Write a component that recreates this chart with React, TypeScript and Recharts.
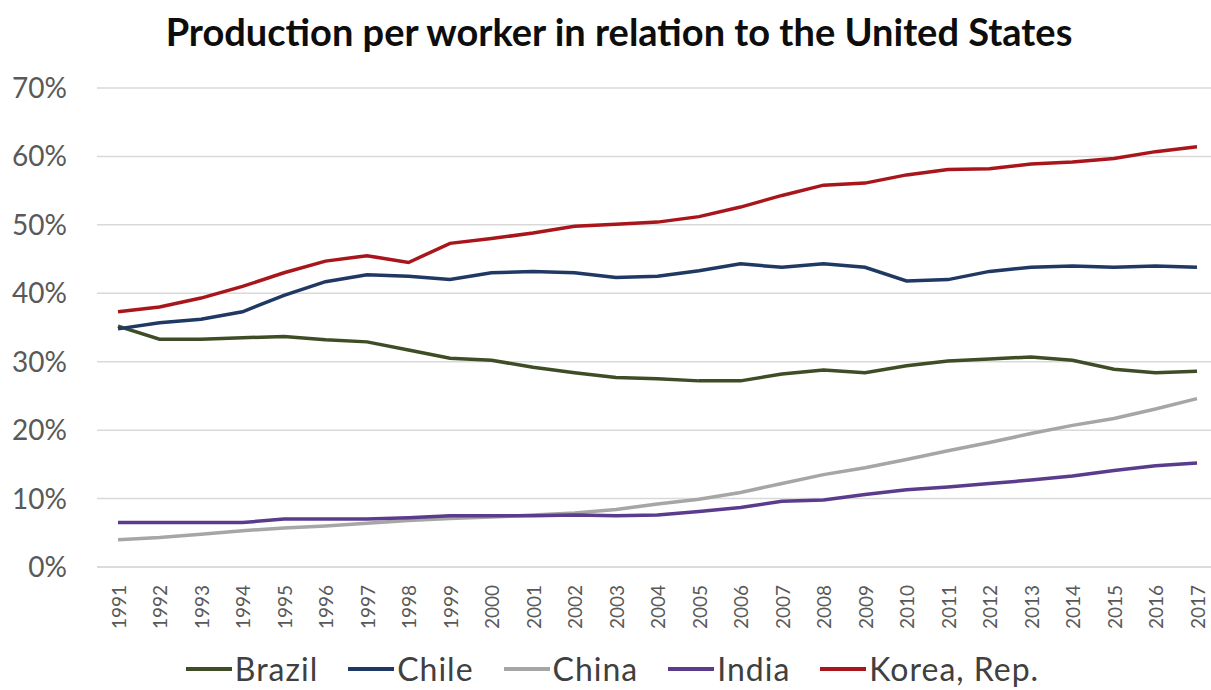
import React from "react";
import { LineChart, Line, XAxis, YAxis, CartesianGrid, Legend } from "recharts";

const years = [
  "1991","1992","1993","1994","1995","1996","1997","1998","1999","2000",
  "2001","2002","2003","2004","2005","2006","2007","2008","2009","2010",
  "2011","2012","2013","2014","2015","2016","2017",
];

const brazil = [35.2,33.3,33.3,33.5,33.7,33.2,32.9,31.7,30.5,30.2,29.2,28.4,27.7,27.5,27.2,27.2,28.2,28.8,28.4,29.4,30.1,30.4,30.7,30.2,28.9,28.4,28.6];
const chile = [34.8,35.7,36.2,37.3,39.7,41.7,42.7,42.5,42.0,43.0,43.2,43.0,42.3,42.5,43.3,44.3,43.8,44.3,43.8,41.8,42.0,43.2,43.8,44.0,43.8,44.0,43.8];
const china = [4.0,4.3,4.8,5.3,5.7,6.0,6.4,6.8,7.1,7.3,7.6,7.9,8.4,9.2,9.9,10.9,12.2,13.5,14.5,15.7,17.0,18.2,19.5,20.7,21.7,23.1,24.6];
const india = [6.5,6.5,6.5,6.5,7.0,7.0,7.0,7.2,7.5,7.5,7.5,7.6,7.5,7.6,8.1,8.7,9.6,9.8,10.6,11.3,11.7,12.2,12.7,13.3,14.1,14.8,15.2];
const korea = [37.3,38.0,39.3,41.0,43.0,44.7,45.5,44.5,47.3,48.0,48.8,49.8,50.1,50.4,51.2,52.6,54.3,55.8,56.1,57.3,58.1,58.2,58.9,59.2,59.7,60.7,61.4];

const yTicks = [0, 10, 20, 30, 40, 50, 60, 70];

const seriesNames = ["Brazil", "Chile", "China", "India", "Korea, Rep."];
const seriesColors = ["#3e4d25", "#1f3864", "#a6a6a6", "#5b3b8c", "#a8161c"];
const seriesValues = [brazil, chile, china, india, korea];

const data = years.map((y, i) => {
  const row: any = { year: y };
  seriesNames.forEach((n, k) => {
    row[n] = seriesValues[k][i];
  });
  return row;
});

const FONT = "Lato, 'Open Sans', sans-serif";

const XTick = (props: any) => {
  const { x, y, payload } = props;
  return (
    <text
      transform={`translate(${x},${y + 10}) rotate(-90)`}
      textAnchor="end"
      dominantBaseline="central"
      fill="#595959"
      fontSize={19}
      fontFamily={FONT}
    >
      {payload.value}
    </text>
  );
};

const LegendContent = () => (
  <div
    style={{
      display: "flex",
      justifyContent: "center",
      alignItems: "center",
      height: 43,
      fontFamily: FONT,
      fontSize: 32,
      letterSpacing: 1,
      color: "#404040",
      paddingLeft: 14,
    }}
  >
    {seriesNames.map((n, k) => (
      <div key={n} style={{ display: "flex", alignItems: "center", margin: "0 15px" }}>
        <svg width={46} height={10} style={{ marginRight: 3 }}>
          <line x1={0} y1={5} x2={46} y2={5} stroke={seriesColors[k]} strokeWidth={4} />
        </svg>
        <span>{n}</span>
      </div>
    ))}
  </div>
);

export default function App() {
  return (
    <div
      style={{
        position: "absolute",
        left: 0,
        top: 0,
        width: 1211,
        height: 690,
        background: "#ffffff",
        overflow: "hidden",
      }}
    >
      <div
        style={{
          position: "absolute",
          left: 0,
          top: 8,
          width: 1238,
          textAlign: "center",
          fontFamily: FONT,
          fontWeight: 700,
          fontSize: 38,
          color: "#0d0d0d",
        }}
      >
        Production per worker in relation to the United States
      </div>
      <LineChart
        width={1211}
        height={690}
        data={data}
        margin={{ top: 88, right: 0, left: 0, bottom: 0 }}
      >
        <CartesianGrid vertical={false} stroke="#d9d9d9" strokeWidth={1.5} />
        <XAxis
          dataKey="year"
          interval={0}
          height={80}
          padding={{ left: 21, right: 14 }}
          tickLine={false}
          axisLine={{ stroke: "#d9d9d9", strokeWidth: 1.5 }}
          tick={<XTick />}
        />
        <YAxis
          width={97}
          domain={[0, 70]}
          ticks={yTicks}
          interval={0}
          tickLine={false}
          axisLine={false}
          tickSize={0}
          tickMargin={30}
          tickFormatter={(v: number) => `${v}%`}
          tick={{ fill: "#595959", fontSize: 28, fontFamily: FONT }}
        />
        {seriesNames.map((n, k) => (
          <Line
            key={n}
            type="linear"
            dataKey={n}
            stroke={seriesColors[k]}
            strokeWidth={3.5}
            dot={false}
            isAnimationActive={false}
          />
        ))}
        <Legend verticalAlign="bottom" height={43} content={<LegendContent />} />
      </LineChart>
    </div>
  );
}
